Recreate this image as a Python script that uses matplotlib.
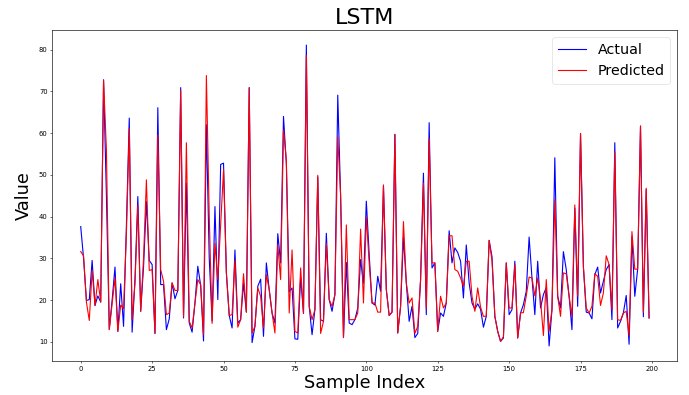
import numpy as np
import matplotlib
matplotlib.use("Agg")
import matplotlib.pyplot as plt

# values (200 samples)
actual = [
    37.6, 30.0, 19.9, 20.1, 29.5, 18.7, 21.0, 19.5, 72.8, 45.0,
    13.0, 20.0, 27.9, 12.5, 23.9, 13.7, 38.0, 63.6, 12.3, 25.0,
    44.8, 17.3, 28.0, 43.6, 29.5, 28.5, 12.0, 66.1, 23.7, 23.7,
    12.9, 15.5, 24.1, 20.3, 22.3, 70.9, 15.7, 48.0, 14.5, 12.3,
    19.3, 28.1, 23.5, 10.2, 62.0, 30.0, 15.0, 42.4, 20.1, 52.5,
    52.8, 26.5, 16.3, 13.3, 32.0, 14.5, 15.3, 24.0, 17.1, 70.9,
    9.8, 13.7, 23.3, 25.0, 11.3, 28.9, 22.5, 16.9, 14.5, 35.9,
    28.9, 64.0, 52.7, 22.0, 22.9, 10.7, 10.6, 25.5, 16.8, 81.1,
    18.5, 11.7, 17.7, 49.5, 15.3, 14.9, 36.0, 20.1, 17.3, 21.3,
    69.1, 45.0, 11.0, 29.0, 14.5, 14.1, 15.3, 18.1, 29.7, 24.0,
    43.7, 31.0, 19.3, 18.8, 25.7, 22.1, 47.3, 22.5, 16.3, 17.1,
    59.7, 12.1, 18.5, 35.0, 24.1, 14.9, 18.5, 11.0, 12.0, 24.9,
    50.4, 16.5, 62.5, 27.7, 28.9, 12.5, 16.9, 16.1, 19.3, 36.6,
    28.9, 32.5, 31.4, 29.3, 20.5, 33.2, 24.1, 19.3, 17.8, 19.1,
    17.8, 13.5, 16.1, 34.3, 30.4, 16.1, 12.5, 10.1, 10.9, 28.9,
    16.5, 17.7, 29.3, 10.9, 16.9, 18.9, 22.1, 35.1, 25.3, 16.5,
    29.3, 18.1, 21.3, 23.0, 9.0, 17.7, 54.1, 20.9, 18.1, 31.6,
    27.3, 20.9, 12.9, 42.0, 18.5, 59.9, 28.0, 17.1, 16.9, 15.5,
    26.1, 27.9, 21.7, 24.5, 27.3, 28.5, 15.3, 57.7, 13.3, 14.9,
    16.9, 21.1, 9.4, 35.2, 20.9, 27.4, 61.7, 16.0, 46.5, 15.7,
]

predicted = [
    31.6, 30.6, 19.5, 15.1, 27.1, 18.7, 24.9, 19.5, 72.6, 56.0,
    12.9, 19.0, 25.3, 12.5, 18.8, 17.9, 36.0, 61.1, 15.3, 24.0,
    42.6, 17.3, 30.0, 48.8, 27.1, 27.3, 12.0, 59.5, 27.3, 24.5,
    16.5, 16.9, 24.1, 22.3, 22.3, 70.3, 16.0, 57.7, 14.9, 13.3,
    19.3, 24.9, 23.7, 11.7, 73.8, 40.0, 14.4, 33.6, 24.9, 38.0,
    51.2, 26.5, 16.3, 16.5, 29.6, 13.5, 15.3, 26.3, 17.1, 70.9,
    12.1, 13.7, 22.9, 20.9, 13.3, 26.1, 22.5, 16.9, 12.1, 33.2,
    24.9, 60.7, 53.5, 16.9, 32.0, 12.5, 12.1, 27.7, 16.8, 78.6,
    18.5, 15.3, 17.7, 49.9, 12.0, 14.9, 33.6, 20.1, 18.5, 21.3,
    59.1, 45.0, 11.0, 38.0, 15.3, 15.3, 15.3, 16.9, 37.0, 19.3,
    39.9, 28.9, 19.3, 19.3, 17.1, 17.1, 47.6, 22.5, 16.3, 17.1,
    59.7, 12.1, 18.5, 38.8, 24.1, 19.3, 20.5, 12.0, 13.7, 24.9,
    48.0, 18.0, 58.7, 28.9, 28.9, 12.5, 20.9, 18.1, 19.3, 35.4,
    35.4, 27.3, 26.9, 25.3, 23.3, 29.3, 29.3, 20.9, 17.3, 22.9,
    18.3, 16.1, 16.1, 34.3, 29.5, 16.1, 12.5, 10.1, 11.2, 28.9,
    18.1, 18.1, 28.5, 10.9, 16.9, 17.0, 21.0, 25.5, 25.3, 21.0,
    25.3, 20.0, 11.5, 24.9, 12.5, 17.7, 44.0, 20.9, 16.1, 26.5,
    26.3, 20.9, 16.1, 42.8, 20.9, 59.9, 28.0, 18.1, 16.9, 18.5,
    26.3, 25.7, 18.7, 21.7, 30.6, 28.5, 17.7, 55.5, 15.3, 15.1,
    16.9, 17.3, 11.5, 36.4, 27.4, 27.4, 61.7, 17.0, 46.8, 15.7,
]

samples = np.arange(len(actual))

fig = plt.figure(figsize=(6.89, 3.95), dpi=100)
ax = fig.add_axes([0.0759, 0.0861, 0.9074, 0.8379])

ax.plot(samples, actual, color="blue", linewidth=0.8, label="Actual")
ax.plot(samples, predicted, color="red", linewidth=0.8, label="Predicted")

ax.set_title("LSTM", fontsize=16, pad=4)
ax.set_xlabel("Sample Index", fontsize=12.8, labelpad=2)
ax.set_ylabel("Value", fontsize=12.8, labelpad=4)
ax.tick_params(labelsize=4.9, length=1.7, width=0.4, pad=1.7)
for s in ax.spines.values():
    s.set_linewidth(0.45)

leg = ax.legend(fontsize=10.3, loc="upper right")
leg.get_frame().set_linewidth(0.4)
for line in leg.get_lines():
    line.set_linewidth(0.8)

fig.savefig("out.png", dpi=100)
